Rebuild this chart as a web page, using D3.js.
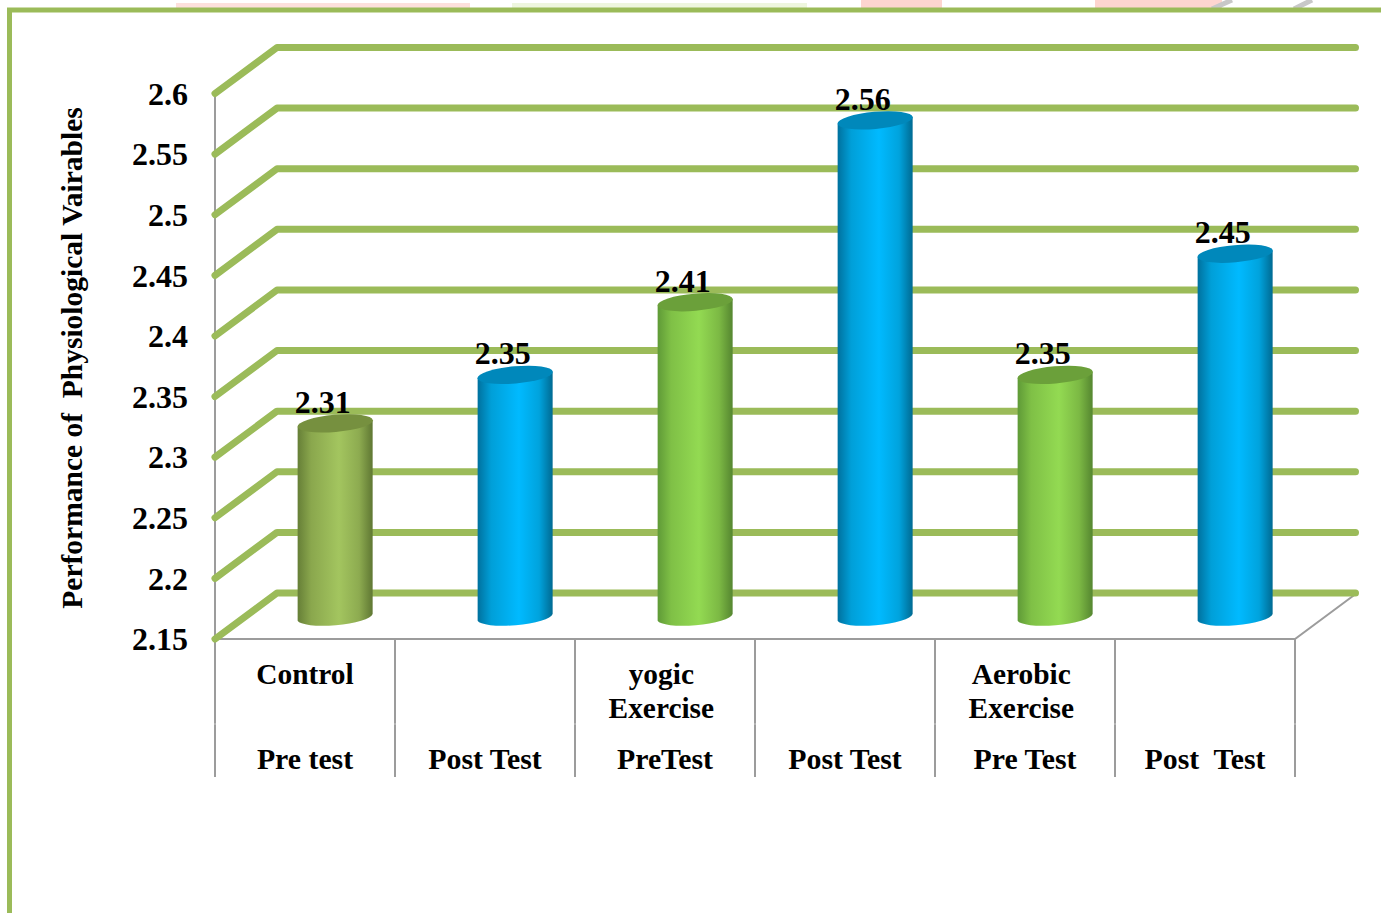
<!DOCTYPE html>
<html>
<head>
<meta charset="utf-8">
<script src="https://cdn.jsdelivr.net/npm/d3@7"></script>
<style>
	html, body { margin: 0; padding: 0; background: #fff; }
	svg { display: block; }
	text { font-family: "Liberation Serif", serif; font-weight: bold; fill: #000; white-space: pre; }
</style>
</head>
<body>
<div id="wrapper"></div>
<script>
// data
const groupLabels = [["Control"], [], ["yogic ", "Exercise "], [], ["Aerobic ", "Exercise "], []];
const testLabels = ["Pre test", "Post Test", "PreTest", "Post Test", "Pre Test", "Post  Test"];
const values = [2.31, 2.35, 2.41, 2.56, 2.35, 2.45];
const barPalette = ["olive", "blue", "green", "blue", "green", "blue"];
const yTicks = [2.15, 2.2, 2.25, 2.3, 2.35, 2.4, 2.45, 2.5, 2.55, 2.6];
const yTitle = "Performance of  Physiological Vairables";

const drawChart = () => {
	const dimensions = { width: 1381, height: 913 };
	const plot = { left: 215, right: 1295, top: 93.5, bottom: 639 };
	const depth = { x: 62, y: -46 }; // back wall offset from the front edge
	const barDepth = 0.47; // bars stand a little under half way back
	const barWidth = 75;

	const colors = {
		olive: { edge: ["#667f37", "#8aa74d", "#a3c55f", "#8dab50", "#5f7733"], top: "#76903f" },
		blue: { edge: ["#00719e", "#009fd8", "#00baff", "#00a3dd", "#006a92"], top: "#0088bb" },
		green: { edge: ["#5f9a37", "#7fc046", "#93da52", "#7cb944", "#558630"], top: "#6ba03a" },
	};
	const gradientStops = ["0%", "18%", "55%", "82%", "100%"];

	const svg = d3
		.select("#wrapper")
		.append("svg")
		.attr("width", dimensions.width)
		.attr("height", dimensions.height);

	// scraps of the page behind the chart, top edge of the picture
	const scraps = svg.append("g");
	[
		[176, 3, 294, 6, "#fde0dc"],
		[512, 3, 295, 6, "#eef6de"],
		[861, 0, 81, 9, "#fed5cf"],
		[1095, 0, 127, 9, "#fed5cf"],
	].forEach(([x, y, w, h, c]) => {
		scraps.append("rect").attr("x", x).attr("y", y).attr("width", w).attr("height", h).attr("fill", c);
	});
	scraps
		.selectAll("path")
		.data(["M1212 9L1232 0", "M1294 9L1312 0"])
		.join("path")
		.attr("d", (d) => d)
		.attr("stroke", "#c8c8c8")
		.attr("stroke-width", 5)
		.attr("fill", "none");

	// outer frame, open at the right and bottom
	svg
		.append("path")
		.attr("d", `M9.5 ${dimensions.height}V10H${dimensions.width}`)
		.attr("fill", "none")
		.attr("stroke", "#9bbb59")
		.attr("stroke-width", 5);

	// scales
	const xScale = d3
		.scaleBand()
		.domain(d3.range(values.length))
		.range([plot.left, plot.right]);
	const yScale = d3
		.scaleLinear()
		.domain([d3.min(yTicks), d3.max(yTicks)])
		.range([plot.bottom, plot.top]);

	// grey walls and floor edge
	const axisColor = "#9c9c9c";
	const frame = svg.append("g").attr("fill", "none").attr("stroke", axisColor).attr("stroke-width", 2);
	frame.append("path").attr("d", `M${plot.left} ${plot.top}V${plot.bottom}H${plot.right}l${depth.x} ${depth.y}`);
	const boundaries = xScale.domain().map((d) => xScale(d)).concat(plot.right);
	frame
		.selectAll(".divider")
		.data(boundaries)
		.join("path")
		.attr("class", "divider")
		.attr("d", (d) => `M${d} ${plot.bottom}V777`);
	// faint join between the two label levels
	frame
		.selectAll(".join")
		.data(boundaries)
		.join("path")
		.attr("class", "join")
		.attr("d", (d) => `M${d} 723.5V724.5`)
		.attr("stroke", "#c8c8c8");

	// green gridlines, bent back along the wall
	svg
		.append("g")
		.selectAll("path")
		.data(yTicks)
		.join("path")
		.attr("d", (d) => {
			const y = yScale(d);
			return `M${plot.left} ${y}l${depth.x} ${depth.y}H${plot.right + depth.x - 1.5}`;
		})
		.attr("fill", "none")
		.attr("stroke", "#9bbb59")
		.attr("stroke-width", 7)
		.attr("stroke-linecap", "round")
		.attr("stroke-linejoin", "round");

	// side shading of the cylinders
	const defs = svg.append("defs");
	Object.entries(colors).forEach(([name, c]) => {
		const grad = defs.append("linearGradient").attr("id", `side-${name}`);
		c.edge.forEach((color, k) => {
			grad.append("stop").attr("offset", gradientStops[k]).attr("stop-color", color);
		});
	});

	// cylinders
	const rx = barWidth / 2 + 0.3;
	const ry = 8.6;
	const tilt = -5;
	const slant = rx * Math.sin((-tilt * Math.PI) / 180);
	const barX = (i) => xScale(i) + xScale.bandwidth() / 2 + barDepth * depth.x + 1;
	const barY = (v) => yScale(v) + barDepth * depth.y;

	const bars = svg
		.append("g")
		.selectAll("g")
		.data(values)
		.join("g")
		.attr("transform", (d, i) => `translate(${barX(i)},0)`);

	bars
		.append("path")
		.attr("d", (d) => {
			const top = barY(d);
			const base = barY(d3.min(yTicks));
			const hw = barWidth / 2;
			return (
				`M${-hw} ${top + slant}L${hw} ${top - slant}L${hw} ${base - slant}` +
				`A${rx} ${ry} ${tilt} 0 1 ${-hw} ${base + slant}Z`
			);
		})
		.attr("fill", (d, i) => `url(#side-${barPalette[i]})`);

	bars
		.append("ellipse")
		.attr("rx", rx)
		.attr("ry", ry)
		.attr("transform", (d) => `translate(0,${barY(d)}) rotate(${tilt})`)
		.attr("fill", (d, i) => colors[barPalette[i]].top);

	// value labels
	svg
		.append("g")
		.selectAll("text")
		.data(values)
		.join("text")
		.attr("x", (d, i) => barX(i) - 12.5)
		.attr("y", (d) => barY(d) - 10.5)
		.attr("text-anchor", "middle")
		.attr("font-size", 32)
		.text((d) => d3.format(".2f")(d));

	// y axis labels
	const yAxis = d3
		.axisLeft(yScale)
		.tickValues(yTicks)
		.tickSize(0)
		.tickPadding(0)
		.tickFormat((d) => String(+d.toFixed(2)));
	svg
		.append("g")
		.attr("transform", "translate(188,0.5)")
		.call(yAxis)
		.call((g) => g.select(".domain").remove())
		.call((g) => g.selectAll("text").attr("font-size", 32).attr("font-family", null).attr("fill", null));

	// y title
	svg
		.append("text")
		.attr("transform", "translate(82,358) rotate(-90)")
		.attr("text-anchor", "middle")
		.attr("font-size", 29.5)
		.text(yTitle);

	// category labels, lower level
	const xAxis = d3
		.axisBottom(xScale)
		.tickSize(0)
		.tickPadding(0)
		.tickFormat((i) => testLabels[i]);
	svg
		.append("g")
		.attr("transform", "translate(0,769)")
		.call(xAxis)
		.call((g) => g.select(".domain").remove())
		.call((g) =>
			g
				.selectAll("text")
				.attr("dy", 0)
				.attr("y", 0)
				.attr("font-size", 29.8)
				.attr("font-family", null)
				.attr("fill", null)
		);

	// category labels, upper level
	svg
		.append("g")
		.selectAll("text")
		.data(groupLabels.flatMap((lines, i) => lines.map((line, k) => ({ line, k, i }))))
		.join("text")
		.attr("x", (d) => xScale(d.i) + xScale.bandwidth() / 2)
		.attr("y", (d) => 684 + d.k * 34)
		.attr("text-anchor", "middle")
		.attr("font-size", 29.4)
		.text((d) => d.line);
};

drawChart();
</script>
</body>
</html>
